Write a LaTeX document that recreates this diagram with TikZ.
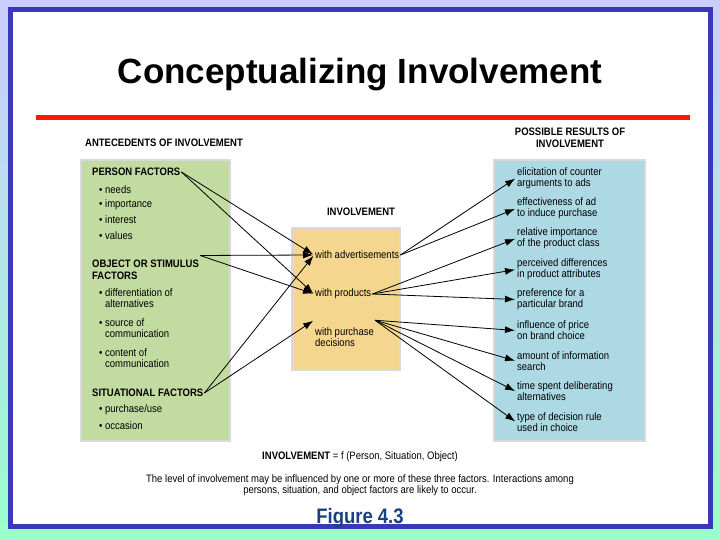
\documentclass[tikz,border=0pt]{standalone}
\usepackage{fontspec}
\setmainfont{Liberation Sans}
\newfontfamily\narrowfont[FakeStretch=0.88]{Liberation Sans}
\usepackage{tikz}
\usetikzlibrary{arrows.meta}
\definecolor{slideblue}{rgb}{0.22,0.22,0.72}
\definecolor{bgtop}{rgb}{0.80,0.80,1.00}
\definecolor{bgbottom}{rgb}{0.60,1.00,0.80}
\definecolor{boxgreen}{rgb}{0.76,0.86,0.63}
\definecolor{boxorange}{rgb}{0.96,0.84,0.56}
\definecolor{boxblue}{rgb}{0.68,0.85,0.90}
\definecolor{figblue}{rgb}{0.10,0.25,0.50}
\tikzset{
  txt/.style={anchor=west,inner sep=1pt,font=\narrowfont\fontsize{10.8}{11.2}\selectfont,align=left},
  hdr/.style={txt,font=\narrowfont\fontsize{10.8}{12}\selectfont\bfseries},
  panel/.style={draw=black!15,line width=1.2pt},
  arr/.style={-{Latex[length=10pt,width=7pt]},line width=0.8pt,shorten >=1pt}
}
\begin{document}
\begin{tikzpicture}[x=1pt,y=-1pt]
      \useasboundingbox (0,0) rectangle (720,540);
      \shade[top color=bgtop,bottom color=bgbottom] (0,0) rectangle (720,540);
      \draw[slideblue,line width=5pt,fill=white] (10,10) rectangle (710,526);
      \node at (360,75) {\fontsize{35}{40}\selectfont\bfseries Conceptualizing Involvement};
      \fill[red!80!orange] (36,115) rectangle (690,120);

      % antecedents
      \node[hdr] (anthead) at (84,143) {ANTECEDENTS OF INVOLVEMENT};
      \draw[panel,fill=boxgreen] (81,160) rectangle (230,441);
      \node[hdr] (pf) at (91,172) {PERSON FACTORS};
      \node[txt] (needs) at (98,190) {\textbullet\ needs};
      \node[txt] (imp) at (98,205) {\textbullet\ importance};
      \node[txt] (int) at (98,220) {\textbullet\ interest};
      \node[txt] (val) at (98,236) {\textbullet\ values};
      \node[hdr] (osf) at (91,269.5) {OBJECT OR STIMULUS\\FACTORS};
      \node[txt] (diff) at (98,298.5) {\textbullet\ differentiation of\\\phantom{\textbullet\ }alternatives};
      \node[txt] (src) at (98,328.5) {\textbullet\ source of\\\phantom{\textbullet\ }communication};
      \node[txt] (cont) at (98,358.5) {\textbullet\ content of\\\phantom{\textbullet\ }communication};
      \node[hdr] (sf) at (91,393) {SITUATIONAL FACTORS};
      \node[txt] (use) at (98,410) {\textbullet\ purchase/use};
      \node[txt] (occ) at (98,426) {\textbullet\ occasion};

      % involvement
      \node[hdr,anchor=center] (invhead) at (361,212) {INVOLVEMENT};
      \draw[panel,fill=boxorange] (292,228) rectangle (400,370);
      \node[txt] (ads) at (314,255) {with advertisements};
      \node[txt] (prod) at (314,294) {with products};
      \node[txt] (pur) at (314,337) {with purchase\\decisions};

      % results
      \node[hdr,anchor=center,align=center] (reshead) at (570,138) {POSSIBLE RESULTS OF\\INVOLVEMENT};
      \draw[panel,fill=boxblue] (494,160) rectangle (645,441);
      \node[txt] (r1) at (516,178) {elicitation of counter\\arguments to ads};
      \node[txt] (r2) at (516,208.5) {effectiveness of ad\\to induce purchase};
      \node[txt] (r3) at (516,238.5) {relative importance\\of the product class};
      \node[txt] (r4) at (516,269.5) {perceived differences\\in product attributes};
      \node[txt] (r5) at (516,299.5) {preference for a\\particular brand};
      \node[txt] (r6) at (516,330.5) {influence of price\\on brand choice};
      \node[txt] (r7) at (516,361) {amount of information\\search};
      \node[txt] (r8) at (516,391.5) {time spent deliberating\\alternatives};
      \node[txt] (r9) at (516,422) {type of decision rule\\used in choice};

      % antecedents to involvement
      \draw[arr] (pf.east) -- (ads.west);
      \draw[arr] (pf.east) -- (prod.west);
      \draw[arr] ([yshift=3pt]osf.north east) -- (ads.west);
      \draw[arr] ([yshift=3pt]osf.north east) -- (prod.west);
      \draw[arr] (sf.east) -- (ads.west);
      \draw[arr] (sf.east) -- ([yshift=6pt]pur.north west);

      % involvement to results
      \foreach \r in {r1,r2} \draw[arr] (ads.east) -- (\r.west);
      \foreach \r in {r3,r4,r5} \draw[arr] (prod.east) -- (\r.west);
      \foreach \r in {r6,r7,r8,r9} \draw[arr] ([yshift=6pt]pur.north east) -- (\r.west);

      \node[txt,anchor=center] (formula) at (360,457) {\textbf{INVOLVEMENT} = f (Person, Situation, Object)};
      \node[txt,anchor=center,align=center] (note) at (360,485.5) {The level of involvement may be influenced by one or more of these three factors. Interactions among\\persons, situation, and object factors are likely to occur.};
      \node[figblue] (fig) at (360,518) {\narrowfont\fontsize{21}{24}\selectfont\bfseries Figure 4.3};
\end{tikzpicture}
\end{document}
